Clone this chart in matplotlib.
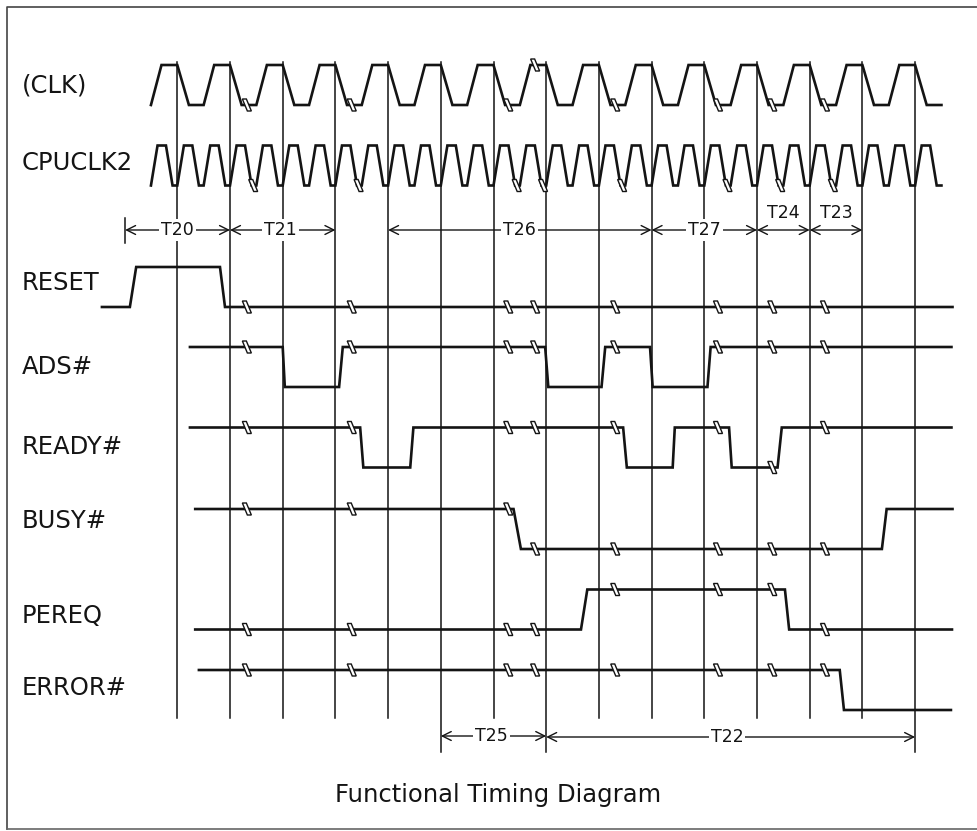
import numpy as np
import matplotlib.pyplot as plt
from matplotlib.patches import Polygon

# time axis is in CLK periods, t=0 is the first vertical line
clk_shape_t = [-0.5, -0.3, 0.0, 0.22, 0.5]
clk_shape_v = [0, 1, 1, 0, 0]
clk_cycles = 15
cpu_shape_t = [-0.5, -0.375, -0.215, -0.09, 0.0]
cpu_shape_v = [0, 1, 1, 0, 0]
cpu_cycles = 30

# (name, start t, start level, edges as (begin, end), end t)
signals = {
    'RESET':  (-1.43, 0, [(-0.90, -0.78), (0.81, 0.905)], 14.71),
    'ADS#':   (0.24, 1, [(2.0, 2.04), (3.07, 3.14), (6.98, 7.04), (8.05, 8.12),
                         (8.97, 9.02), (10.06, 10.12)], 14.69),
    'READY#': (0.24, 1, [(3.47, 3.53), (4.42, 4.48), (8.46, 8.53), (9.40, 9.44),
                         (10.47, 10.52), (11.39, 11.47)], 14.69),
    'BUSY#':  (0.34, 1, [(6.38, 6.52), (13.37, 13.46)], 14.71),
    'PEREQ':  (0.34, 0, [(7.66, 7.78), (11.53, 11.61)], 14.70),
    'ERROR#': (0.41, 1, [(12.57, 12.65)], 14.68),
}
row_top = {'(CLK)': 65, 'CPUCLK2': 145.5, 'RESET': 267, 'ADS#': 347,
           'READY#': 427.5, 'BUSY#': 509, 'PEREQ': 589.5, 'ERROR#': 670}
label_y = {'(CLK)': 85, 'CPUCLK2': 163, 'RESET': 283, 'ADS#': 367,
           'READY#': 447, 'BUSY#': 521, 'PEREQ': 616, 'ERROR#': 688}
AMP = 40

mark_t = [1.32, 3.31, 6.28, 6.79, 8.31, 10.26, 11.29, 12.29]
mark_t_cpu = [1.44, 3.44, 6.44, 6.94, 8.44, 10.44, 11.44, 12.44]

n_lines = 15
long_lines = [5, 7, 14]

# (label, from, to, arrow y, label t, label above?)
timings = [
    ('T20', -0.99, 1, 230, 0.0, False),
    ('T21', 1, 3, 230, 1.95, False),
    ('T26', 4, 9, 230, 6.5, False),
    ('T27', 9, 11, 230, 10.0, False),
    ('T24', 11, 12, 230, 11.5, True),
    ('T23', 12, 13, 230, 12.5, True),
    ('T25', 5, 7, 736, 5.96, False),
    ('T22', 7, 14, 737, 10.43, False),
]

PX = 52.7
X0 = 177.3
ink = '#141414'

fig = plt.figure(figsize=(9.77, 8.31), dpi=100)
ax = fig.add_axes([0, 0, 1, 1])
ax.set_xlim(-X0 / PX, (977 - X0) / PX)
ax.set_ylim(831, 0)
ax.axis('off')

# frame
ax.plot([0.007, 0.007, 1.0], [0.002, 0.992, 0.992], transform=ax.transAxes,
        color='#444', lw=1.2, clip_on=False)
ax.plot([0.007, 1.0], [0.003, 0.003], transform=ax.transAxes, color='#666', lw=1.2)

# vertical reference lines
for i in range(n_lines):
    bottom = 752 if i in long_lines else 718
    ax.plot([i, i], [62, bottom], color=ink, lw=1.1, zorder=1)


def tile(shape_t, shape_v, n, period):
    xs, ys = [], []
    for k in range(n):
        xs += [t + k * period for t in shape_t]
        ys += shape_v
    return np.array(xs), np.array(ys)


def trace(start, lv, edges, end):
    xs, ys = [start], [lv]
    for a, b in edges:
        xs += [a, b]
        ys += [lv, 1 - lv]
        lv = 1 - lv
    xs.append(end)
    ys.append(lv)
    return np.array(xs), np.array(ys)


def skew_mark(t, y):
    dx = 1 / PX
    pts = [(t - 4.5 * dx, y - 6), (t - 0.5 * dx, y - 6),
           (t + 4.5 * dx, y + 6), (t + 0.5 * dx, y + 6)]
    ax.add_patch(Polygon(pts, closed=True, fc='white', ec=ink, lw=1.0, zorder=4))


waves = {
    '(CLK)': (tile(clk_shape_t, clk_shape_v, clk_cycles, 1.0), mark_t),
    'CPUCLK2': (tile(cpu_shape_t, cpu_shape_v, cpu_cycles, 0.5), mark_t_cpu),
}
for name, (start, lv, edges, end) in signals.items():
    waves[name] = (trace(start, lv, edges, end), mark_t)

for name, ((xs, ys), marks) in waves.items():
    top = row_top[name]
    ax.plot(xs, top + (1 - ys) * AMP, color=ink, lw=1.9, zorder=3,
            solid_joinstyle='miter')
    for t in marks:
        skew_mark(t, top + (1 - np.interp(t, xs, ys)) * AMP)
    ax.text((22 - X0) / PX, label_y[name], name, fontsize=17.5, ha='left',
            va='center', color=ink)

# timing arrows
ax.plot([-0.99, -0.99], [218, 243], color=ink, lw=1.1)
for lab, a, b, y, lt, above in timings:
    ax.annotate('', xy=(b, y), xytext=(a, y),
                arrowprops=dict(arrowstyle='<->', color=ink, lw=1.0,
                                shrinkA=0, shrinkB=0, mutation_scale=16),
                zorder=2)
    if above:
        ax.text(lt, y - 17, lab, fontsize=12.5, ha='center', va='center', color=ink)
    else:
        ax.text(lt, y, lab, fontsize=12.5, ha='center', va='center', color=ink,
                bbox=dict(fc='white', ec='none', pad=1.5), zorder=5)

ax.text((498 - X0) / PX, 795, 'Functional Timing Diagram', fontsize=17.5,
        ha='center', va='center', color=ink)

fig.savefig('out.png', dpi=100, facecolor='white')
